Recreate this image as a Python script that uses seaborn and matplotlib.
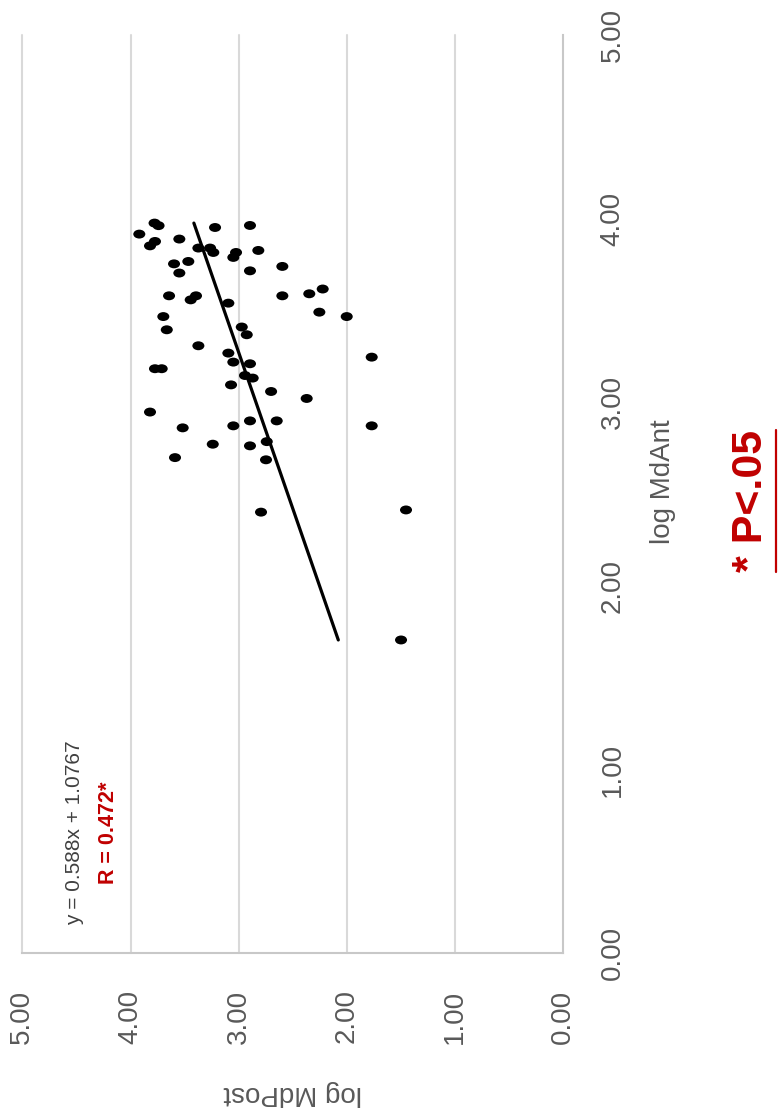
import matplotlib
matplotlib.use("Agg")
import matplotlib.pyplot as plt
from matplotlib.path import Path
from matplotlib.transforms import Affine2D
from matplotlib.lines import Line2D
import seaborn as sns
import pandas as pd
import numpy as np

# log MdAnt (horizontal in the original layout) and log MdPost values per subject
md_ant = [3.976, 3.962, 3.952, 3.963, 3.916, 3.889, 3.876, 3.852, 3.840, 3.840,
          3.816, 3.816, 3.789, 3.827, 3.754, 3.767, 3.704, 3.716, 3.740, 3.580,
          3.580, 3.558, 3.580, 3.591, 3.617, 3.540, 3.467, 3.491, 3.467, 3.395,
          3.410, 3.368, 3.308, 3.268, 3.246, 3.183, 3.183, 3.219, 3.210, 3.146,
          3.132, 3.095, 3.059, 3.021, 2.947, 2.861, 2.872, 2.899, 2.899, 2.872,
          2.772, 2.763, 2.786, 2.699, 2.687, 2.402, 2.414, 1.706]
md_post = [3.778, 3.741, 3.219, 2.896, 3.919, 3.549, 3.774, 3.820, 3.373, 3.265,
           3.235, 3.025, 3.050, 2.819, 3.598, 3.466, 3.549, 2.896, 2.597, 3.644,
           3.395, 3.444, 2.597, 2.348, 2.224, 3.096, 3.697, 2.255, 2.002, 3.665,
           2.972, 2.926, 3.373, 3.096, 1.771, 3.774, 3.712, 3.050, 2.896, 2.942,
           2.871, 3.071, 2.701, 2.372, 3.820, 3.518, 3.050, 2.896, 2.649, 1.771,
           3.240, 2.896, 2.741, 3.589, 2.748, 2.794, 1.454, 1.500]

# Trendline as reported on the chart
slope = 0.588
intercept = 1.0767
r_value = 0.472
axis_ticks = [0, 1, 2, 3, 4, 5]
tick_labels = ["0.00", "1.00", "2.00", "3.00", "4.00", "5.00"]

df = pd.DataFrame({"log MdAnt": md_ant, "log MdPost": md_post})

sns.set_theme(style="white")
plt.rcParams["font.family"] = ["Liberation Sans", "DejaVu Sans"]

GRID = "#d9d9d9"
TXT = "#595959"
RED = "#c00000"

fig = plt.figure(figsize=(7.81, 11.19), dpi=100)
ax = fig.add_axes([0.0286, 0.1481, 0.6927, 0.8206])

# slightly wide oval marker
oval = Path.unit_circle().transformed(Affine2D().scale(1.35, 1.0))

sns.scatterplot(data=df, x="log MdPost", y="log MdAnt", ax=ax,
                marker=oval, s=75, color="black", edgecolor="none",
                linewidth=0, zorder=3)

ant_line = np.array([min(md_ant), max(md_ant)])
post_line = slope * ant_line + intercept
sns.lineplot(x=post_line, y=ant_line, ax=ax, sort=False, color="black",
             linewidth=2.3, zorder=4)

ax.set_xlim(5, 0)
ax.set_ylim(0, 5)
ax.set_xticks(axis_ticks)
ax.set_yticks(axis_ticks)
ax.set_xticklabels(tick_labels)
ax.set_yticklabels(tick_labels)
ax.set_xlabel("")
ax.set_ylabel("")

ax.grid(False)
for v in axis_ticks[1:]:
    ax.axvline(v, color=GRID, linewidth=1.5, zorder=1, clip_on=False)

for side in ["left", "top"]:
    ax.spines[side].set_visible(False)
for side in ["right", "bottom"]:
    ax.spines[side].set_visible(True)
    ax.spines[side].set_color("#c8c8c8")
    ax.spines[side].set_linewidth(1.5)

ax.yaxis.tick_right()
ax.tick_params(axis="both", length=0)
ax.tick_params(axis="x", pad=26, labelsize=20, labelcolor=TXT, labelrotation=90)
ax.tick_params(axis="y", pad=26, labelsize=20, labelcolor=TXT, labelrotation=90)
for lab in ax.get_yticklabels():
    lab.set_verticalalignment("center")

fig.text(0.849, 0.5693, "log MdAnt", rotation=90, ha="center", va="center",
         fontsize=20, color=TXT)
fig.text(0.375, 0.0232, "log MdPost", rotation=180, ha="center", va="center",
         fontsize=20, color=TXT)

fig.text(0.0948, 0.2556, f"y = {slope}x + {intercept}", rotation=90,
         ha="center", va="center", fontsize=15, color="#404040")
fig.text(0.1383, 0.2556, f"R = {r_value}*", rotation=90, ha="center",
         va="center", fontsize=15.5, color=RED, fontweight="bold")

sig = fig.text(0.9616, 0.5523, "* P<.05", rotation=90, ha="center",
               va="center", fontsize=31, color=RED, fontweight="bold")

# underline the significance note (to the right of the rotated text)
fig.canvas.draw()
bb = sig.get_window_extent().transformed(fig.transFigure.inverted())
ux = bb.x1 + 5 / 781
fig.add_artist(Line2D([ux, ux], [bb.y0, bb.y1], transform=fig.transFigure,
                      color=RED, linewidth=1.6))

fig.savefig("out.png", dpi=100, facecolor="white")
